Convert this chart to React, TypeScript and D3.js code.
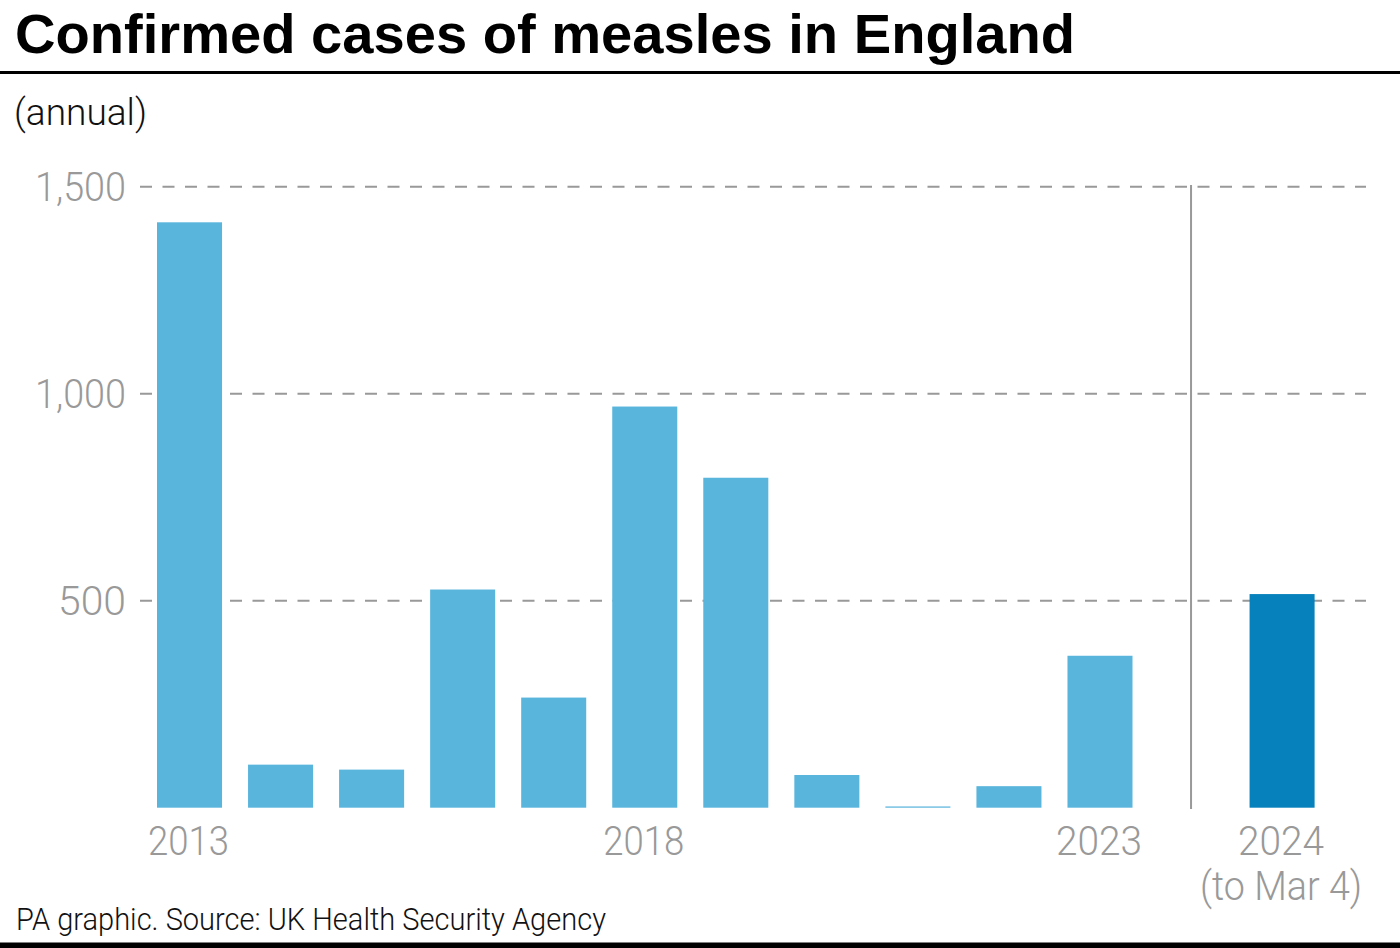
import React from "react";
import * as d3 from "d3";

const years = ["2013", "2014", "2015", "2016", "2017", "2018", "2019", "2020", "2021", "2022", "2023", "2024"];
const cases = [1414, 104, 92, 527, 266, 969, 797, 79, 3, 52, 367, 516];
const partialYear = "2024";
const labelledYears = ["2013", "2018", "2023", "2024"];
const yTicks = [500, 1000, 1500];
const title = "Confirmed cases of measles in England";
const subtitle = "(annual)";
const partialNote = "(to Mar 4)";
const footer = "PA graphic. Source: UK Health Security Agency";

const W = 1400;
const H = 948;
const LIGHT = "#5ab5dd";
const DARK = "#0681bb";
const GREY = "#999999";
const SANS = "'Liberation Sans', Arial, Helvetica, sans-serif";
const LIGHTFONT = "Roboto, 'Liberation Sans', Arial, sans-serif";

// slot index: a blank slot separates the partial year
const slotOf = (y: string, i: number) => (y === partialYear ? i + 1 : i);
const nSlots = years.length + 1;

export default function App() {
  const x = d3
    .scaleBand<number>()
    .domain(d3.range(nSlots))
    .range([157, 1314.6])
    .paddingInner(26 / 91)
    .paddingOuter(0);
  const y = d3.scaleLinear().domain([0, 1500]).range([807.7, 186.7]);

  const partialIdx = years.indexOf(partialYear);
  const sepSlot = slotOf(partialYear, partialIdx) - 1;
  const sepX = (x(sepSlot) as number) + x.bandwidth() / 2;

  const labelWidths: Record<string, number> = { "2013": 81, "2018": 81, "2023": 86, "2024": 86 };

  return (
    <svg
      width={W}
      height={H}
      viewBox={`0 0 ${W} ${H}`}
      style={{ position: "absolute", left: 0, top: 0, display: "block", background: "#fff" }}
    >
      <rect x={0} y={0} width={W} height={H} fill="#fff" />
      {/* Title */}
      <text
        x={15}
        y={53}
        fontFamily={SANS}
        fontWeight={700}
        fontSize={56}
        fill="#000"
        textLength={1060}
        lengthAdjust="spacingAndGlyphs"
      >
        {title}
      </text>
      <rect x={0} y={71} width={W} height={3} fill="#000" />
      <text
        x={14}
        y={125}
        fontFamily={LIGHTFONT}
        fontWeight={300}
        fontSize={37}
        fill="#111"
        textLength={133}
        lengthAdjust="spacingAndGlyphs"
      >
        {subtitle}
      </text>

      {/* Grid lines */}
      {yTicks.map((t) => (
        <g key={t}>
          <line
            x1={140}
            x2={1366}
            y1={y(t)}
            y2={y(t)}
            stroke={GREY}
            strokeWidth={2}
            strokeDasharray="12 10.5"
          />
          <text
            x={126}
            y={y(t)}
            dy="0.35em"
            textAnchor="end"
            fontFamily={LIGHTFONT}
            fontWeight={300}
            fontSize={41}
            fill={GREY}
            textLength={t >= 1000 ? 91 : 68}
            lengthAdjust="spacingAndGlyphs"
          >
            {d3.format(",")(t)}
          </text>
        </g>
      ))}

      {/* Separator */}
      <line x1={sepX} x2={sepX} y1={185} y2={809} stroke={GREY} strokeWidth={2} />

      {/* Bars */}
      {years.map((yr, i) => {
        const s = slotOf(yr, i);
        const top = y(cases[i]);
        return (
          <rect
            key={yr}
            x={x(s)}
            y={top}
            width={x.bandwidth()}
            height={y(0) - top}
            fill={yr === partialYear ? DARK : LIGHT}
          />
        );
      })}

      {/* X labels */}
      {years.map((yr, i) => {
        if (!labelledYears.includes(yr)) return null;
        const cx = (x(slotOf(yr, i)) as number) + x.bandwidth() / 2 - 1;
        return (
          <g key={"l" + yr}>
            <text
              x={cx}
              y={855}
              textAnchor="middle"
              fontFamily={LIGHTFONT}
              fontWeight={300}
              fontSize={41}
              fill={GREY}
              textLength={labelWidths[yr]}
              lengthAdjust="spacingAndGlyphs"
            >
              {yr}
            </text>
            {yr === partialYear && (
              <text
                x={cx}
                y={900}
                textAnchor="middle"
                fontFamily={LIGHTFONT}
                fontWeight={300}
                fontSize={41}
                fill={GREY}
                textLength={162}
                lengthAdjust="spacingAndGlyphs"
              >
                {partialNote}
              </text>
            )}
          </g>
        );
      })}

      {/* Footer */}
      <text
        x={16}
        y={930}
        fontFamily={LIGHTFONT}
        fontWeight={300}
        fontSize={31}
        fill="#111"
        textLength={590}
        lengthAdjust="spacingAndGlyphs"
      >
        {footer}
      </text>
      <rect x={0} y={942.5} width={W} height={5.5} fill="#000" />
    </svg>
  );
}
